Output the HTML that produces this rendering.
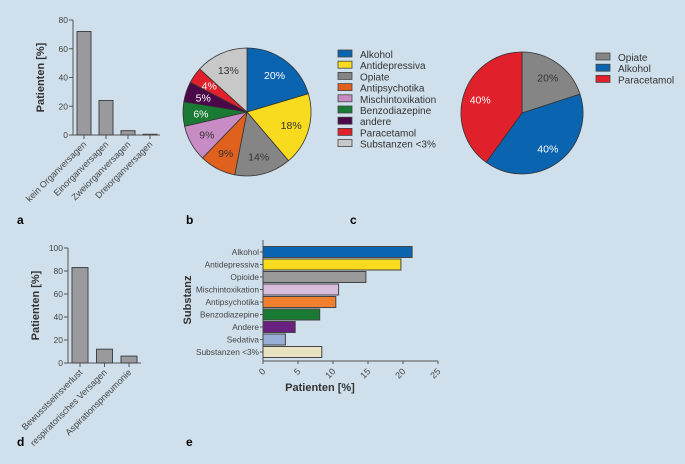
<!DOCTYPE html>
<html><head><meta charset="utf-8"><style>
html,body{margin:0;padding:0;background:#cfe0ec;}
svg{display:block;font-family:"Liberation Sans",sans-serif;}
</style></head><body>
<svg id="s" width="685" height="464" xmlns="http://www.w3.org/2000/svg">
<rect width="685" height="464" fill="#cfe0ec"/>
<text x="17" y="224" font-size="12" font-weight="bold">a</text>
<text x="186" y="224" font-size="12" font-weight="bold">b</text>
<text x="350" y="224" font-size="12" font-weight="bold">c</text>
<text x="17" y="446" font-size="12" font-weight="bold">d</text>
<text x="186" y="446" font-size="12" font-weight="bold">e</text>
</svg>
<script>
const NS="http://www.w3.org/2000/svg";const svg=document.getElementById('s');
function mk(t,a,p){const e=document.createElementNS(NS,t);for(const k in a)e.setAttribute(k,a[k]);(p||svg).appendChild(e);return e;}

// Panel a
const aCats=["kein Organversagen","Einorganversagen","Zweiorganversagen","Dreiorganversagen"];
const aVals=[72,24,3,0.5];
const aTicks=[0,20,40,60,80];
// Panel b
const bCats=["Alkohol","Antidepressiva","Opiate","Antipsychotika","Mischintoxikation","Benzodiazepine","andere","Paracetamol","Substanzen <3%"];
const bVals=[20,18,14,9,9,6,5,4,13];
const bColors=["#0a64b0","#f8da1e","#858585","#e0601e","#c88cc4","#1a7a34","#4a0848","#e0202a","#c8c8c8"];
// Panel c
const cCats=["Opiate","Alkohol","Paracetamol"];
const cVals=[20,40,40];
const cColors=["#858585","#0a64b0","#e0202a"];
// Panel d
const dCats=["Bewusstseinsverlust","respiratorisches Versagen","Aspirationspneumonie"];
const dVals=[83,12,6];
const dTicks=[0,20,40,60,80,100];
// Panel e
const eCats=["Alkohol","Antidepressiva","Opioide","Mischintoxikation","Antipsychotika","Benzodiazepine","Andere","Sedativa","Substanzen <3%"];
const eVals=[21.3,19.7,14.7,10.8,10.4,8.1,4.6,3.2,8.4];
const eColors=["#0a64b0","#f8da1e","#9a9a9a","#d8bcdc","#f08030","#1a7a34","#6a2080","#98b0d8","#e8e2c2"];
const eTicks=[0,5,10,15,20,25];

function vbar(cats,vals,ticks,o,prefix){
  const g=mk('g',{});
  
  
  const y=v=>o.y0-(v/o.max)*(o.y0-o.y1);
  const ax=mk('path',{d:`M${o.x0},${o.y1}V${o.y0}H${o.xe}`,stroke:'#555',fill:'none','stroke-width':1},g);
  
  ticks.forEach(t=>{
    const l=mk('line',{x1:o.x0-4,x2:o.x0,y1:y(t),y2:y(t),stroke:'#555'},g);
    
    const tx=mk('text',{x:o.x0-5,y:y(t)+3,'font-size':8.5,fill:'#444','text-anchor':'end'},g);tx.textContent=t;
    
  });
  cats.forEach((c,i)=>{
    const cx=o.bx+i*o.step;
    const r=mk('rect',{x:cx-o.bw/2,y:y(vals[i]),width:o.bw,height:o.y0-y(vals[i]),fill:'#9a9a9e',stroke:'#444','stroke-width':1},g);
    
    const tk=mk('line',{x1:cx,x2:cx,y1:o.y0,y2:o.y0+4,stroke:'#555'},g);
    
    const t=mk('text',{x:cx+3,y:o.y0+10,'font-size':9,fill:'#444','text-anchor':'end',transform:`rotate(-45 ${cx+3} ${o.y0+10})`},g);t.textContent=c;
    
  });
  const yt=mk('text',{x:0,y:0,'font-size':11,'font-weight':'bold',fill:'#333','text-anchor':'middle',transform:`translate(${o.x0-29},${(o.y0+o.y1)/2}) rotate(-90)`},g);
  yt.textContent='Patienten [%]';
}
vbar(aCats,aVals,aTicks,{x0:73,y0:135,y1:20,max:80,xe:160,bx:84,step:22,bw:14},'panel-a');
vbar(dCats,dVals,dTicks,{x0:68,y0:363,y1:248,max:100,xe:141,bx:80,step:24.5,bw:16},'panel-d');

function pie(vals,colors,cats,cx,cy,r,prefix,labelColors){
  const g=mk('g',{});
  const tot=vals.reduce((a,b)=>a+b,0);let a0=0;
  vals.forEach((v,i)=>{
    const a1=a0+v/tot*2*Math.PI;
    const p=(a)=>[cx+r*Math.sin(a),cy-r*Math.cos(a)];
    const [x0,y0]=p(a0),[x1,y1]=p(a1);
    const s=mk('path',{d:`M${cx},${cy}L${x0},${y0}A${r},${r} 0 ${a1-a0>Math.PI?1:0} 1 ${x1},${y1}Z`,fill:colors[i],stroke:'#333','stroke-width':0.8},g);
    
    const am=(a0+a1)/2,lr=r*0.72;
    const t=mk('text',{x:cx+lr*Math.sin(am),y:cy-lr*Math.cos(am)+4,'font-size':10.5,fill:labelColors[i],'text-anchor':'middle'},g);
    t.textContent=v+'%';
    a0=a1;
  });
}
pie(bVals,bColors,bCats,247,112,64,'panel-b',['#fff','#333','#333','#333','#333','#fff','#fff','#fff','#333']);
pie(cVals,cColors,cCats,522,113,61,'panel-c',['#333','#fff','#fff']);

function legend(cats,colors,x,y,dy,prefix){
  const g=mk('g',{});
  cats.forEach((c,i)=>{
    const r=mk('rect',{x:x,y:y+i*dy-4,width:14,height:7,fill:colors[i],stroke:'#444','stroke-width':0.8},g);
    
    const t=mk('text',{x:x+22,y:y+i*dy+4,'font-size':10,fill:'#333'},g);t.textContent=c;
    
  });
}
legend(bCats,bColors,338,54,11.2,'panel-b');
legend(cCats,cColors,596,57,11.2,'panel-c');

// Panel e
(function(){
  const g=mk('g',{});
  const x0=263,ppu=7,yT=252,step=12.5,bh=11,yb=361;
  const X=v=>x0+v*ppu;
  const ax=mk('path',{d:`M${x0},240V${yb}H${X(25)}`,stroke:'#555',fill:'none'},g);
  
  eCats.forEach((c,i)=>{
    const cy=yT+i*step;
    const r=mk('rect',{x:x0,y:cy-bh/2,width:X(eVals[i])-x0,height:bh,fill:eColors[i],stroke:'#444','stroke-width':1},g);
    
    const tk=mk('line',{x1:x0-3,x2:x0,y1:cy,y2:cy,stroke:'#555'},g);
    
    const t=mk('text',{x:x0-4,y:cy+3,'font-size':8.3,fill:'#444','text-anchor':'end'},g);t.textContent=c;
    
  });
  eTicks.forEach(v=>{
    const tk=mk('line',{x1:X(v),x2:X(v),y1:yb,y2:yb+3,stroke:'#555'},g);
    
    const t=mk('text',{x:X(v)+3,y:yb+11,'font-size':9,fill:'#444','text-anchor':'end',transform:`rotate(-45 ${X(v)+3} ${yb+11})`},g);t.textContent=v;
    
  });
  const xt=mk('text',{x:320,y:391,'font-size':11,'font-weight':'bold',fill:'#333','text-anchor':'middle'},g);xt.textContent='Patienten [%]';
  
  const yt=mk('text',{x:0,y:0,'font-size':11,'font-weight':'bold',fill:'#333','text-anchor':'middle',transform:'translate(191,300) rotate(-90)'},g);yt.textContent='Substanz';
  
})();
</script>
</body></html>
